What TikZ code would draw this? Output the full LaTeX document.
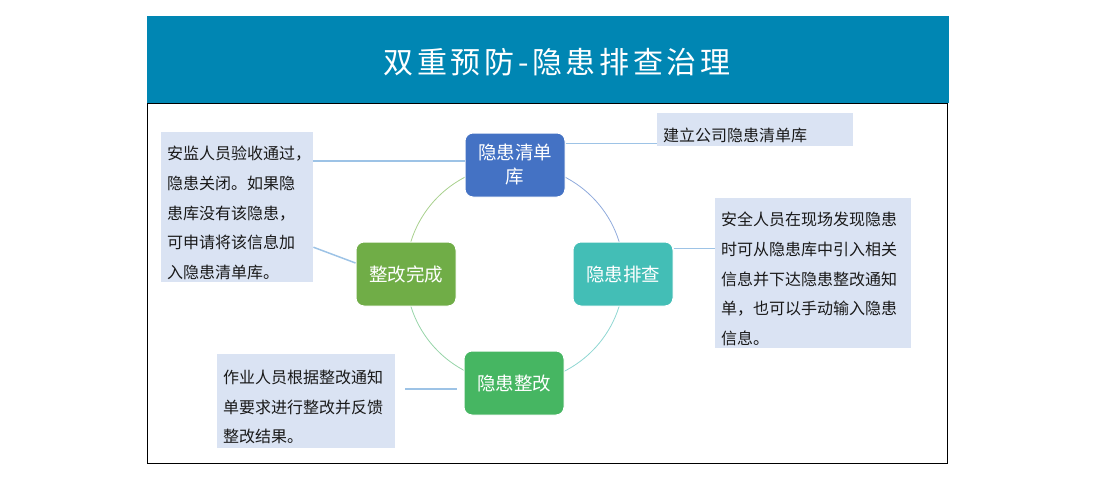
\documentclass[tikz,border=0pt]{standalone}
\usepackage{fontspec}
\setmainfont{Noto Sans CJK SC}
\newfontfamily\titlefont[LetterSpace=12]{Noto Sans CJK SC}
\definecolor{band}{RGB}{0,134,179}
\definecolor{libblue}{RGB}{68,114,196}
\definecolor{checkteal}{RGB}{67,190,182}
\definecolor{fixgreen}{RGB}{70,182,98}
\definecolor{donegreen}{RGB}{112,173,71}
\definecolor{notefill}{RGB}{218,227,243}
\definecolor{linkblue}{RGB}{157,195,230}

\begin{document}
\begin{tikzpicture}[x=1pt,y=-1pt,
    phase/.style={rectangle,rounded corners=8pt,draw=white,line width=1pt,
      minimum width=100pt,minimum height=64pt,text=white,align=center,
      font=\fontsize{18.5}{24}\selectfont},
    note/.style={fill=notefill,anchor=north west,inner xsep=6pt,inner ysep=0pt,
      align=left,text=black!90,font=\fontsize{16}{29.7}\selectfont,
      execute at begin node={\rule{0pt}{25pt}}},
    link/.style={draw=linkblue,line width=1.5pt}]
     \def\cx{515}
     \def\cy{274}
     \def\r{109}
     \useasboundingbox (0,0) rectangle (1110,482);
     \fill[band] (147,16) rectangle (949,103);
     \draw[line width=0.8pt] (147,103) rectangle (947,463);
     \node[font=\titlefont\fontsize{30}{30}\selectfont,text=white] (title) at (557,62) {双重预防-隐患排查治理};
     % ring
     \coordinate (hub) at (\cx,\cy);
     \draw[color={rgb,255:red,143;green,170;blue,220},line width=0.8pt] ([shift={(-90:\r)}]hub) arc[start angle=-90,end angle=0,radius=\r];
     \draw[color={rgb,255:red,142;green,214;blue,210},line width=0.8pt] ([shift={(0:\r)}]hub) arc[start angle=0,end angle=90,radius=\r];
     \draw[color={rgb,255:red,150;green,212;blue,168},line width=0.8pt] ([shift={(90:\r)}]hub) arc[start angle=90,end angle=180,radius=\r];
     \draw[color={rgb,255:red,169;green,209;blue,142},line width=0.8pt] ([shift={(180:\r)}]hub) arc[start angle=180,end angle=270,radius=\r];
     \node[phase,fill=libblue] (lib) at (\cx,{\cy-\r}) {隐患清单\\库};
     \node[phase,fill=checkteal] (check) at ({\cx+108},\cy) {隐患排查};
     \node[phase,fill=fixgreen] (fix) at ({\cx-1},{\cy+\r}) {隐患整改};
     \node[phase,fill=donegreen] (done) at ({\cx-109},\cy) {整改完成};
     % notes
     \node[note,text width=140pt,minimum height=150pt] (donenote) at (161,132) {安监人员验收通过，\\隐患关闭。如果隐\\患库没有该隐患，\\可申请将该信息加\\入隐患清单库。};
     \node[note,text width=184pt,minimum height=33pt] (libnote) at (657,113) {建立公司隐患清单库};
     \node[note,text width=184pt,minimum height=150pt] (checknote) at (715,198) {安全人员在现场发现隐患\\时可从隐患库中引入相关\\信息并下达隐患整改通知\\单，也可以手动输入隐患\\信息。};
     \node[note,text width=166pt,minimum height=94pt] (fixnote) at (217,354) {作业人员根据整改通知\\单要求进行整改并反馈\\整改结果。};
     % links
     \coordinate (a) at ([yshift=4pt]lib.west);
     \draw[link] (a) -- (a -| donenote.east);
     \draw[link] ([yshift=-40pt]donenote.east) -- ([yshift=11pt]done.west);
     \coordinate (b) at ([yshift=-14pt]libnote.west);
     \draw[link,line width=1pt] (lib.east |- b) -- (b);
     \coordinate (c) at ([yshift=26pt]check.east);
     \draw[link,line width=1pt] (c) -- (c -| checknote.west);
     \coordinate (d) at ([yshift=-6pt]fix.west);
     \draw[link,shorten <=7pt,shorten >=10pt] (d) -- (d -| fixnote.east);
\end{tikzpicture}
\end{document}
